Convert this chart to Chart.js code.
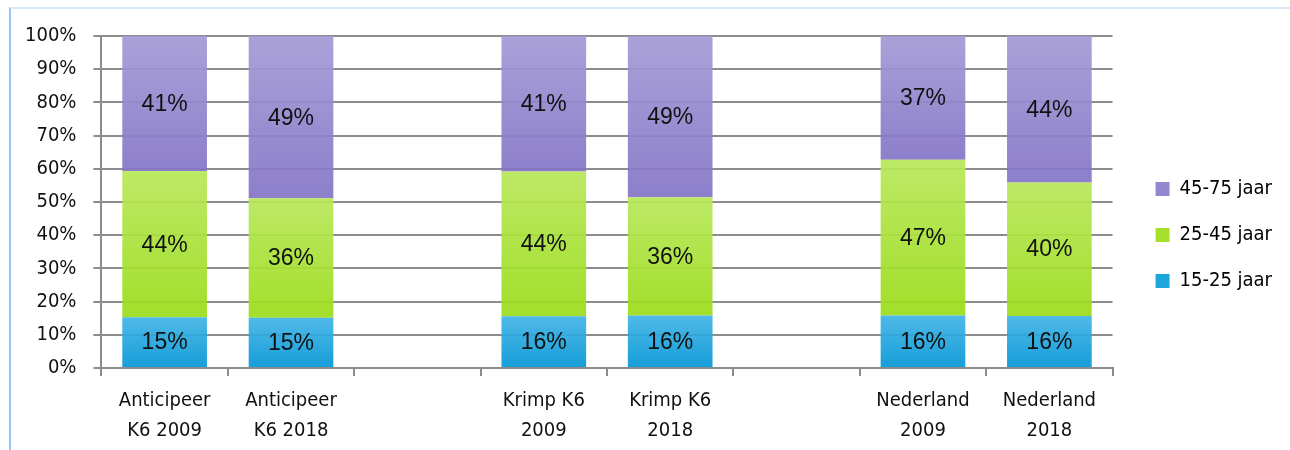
<!DOCTYPE html>
<html>
<head>
<meta charset="utf-8">
<script src="https://cdn.jsdelivr.net/npm/chart.js@4/dist/chart.umd.min.js"></script>
<style>
  html, body { margin: 0; padding: 0; background: #fff; }
  #wrap { position: relative; width: 1290px; height: 450px; }
  #frame { position: absolute; left: 9px; top: 7px; right: 0; bottom: 0; border-left: 2px solid #9cc3f5; border-top: 2px solid #d9e7fb; }
  #chart { position: absolute; left: 0; top: 0; }
</style>
</head>
<body>
<div id="wrap">
  <div id="frame"></div>
  <canvas id="chart" width="1290" height="450"></canvas>
</div>
<script>
// Categorieën (lege kolommen als scheiding tussen de groepen)
const categories = [
    ['Anticipeer', 'K6 2009'], ['Anticipeer', 'K6 2018'], '',
    ['Krimp K6', '2009'], ['Krimp K6', '2018'], '',
    ['Nederland', '2009'], ['Nederland', '2018']
];

// Aandelen per leeftijdsgroep (%)
const age15to25 = [15.3, 15.1, null, 15.6, 15.8, null, 15.8, 15.7];
const age25to45 = [44.0, 36.0, null, 43.6, 35.6, null, 46.9, 40.2];
const age45to75 = [40.7, 48.9, null, 40.8, 48.6, null, 37.3, 44.1];

const yTicks = [0, 10, 20, 30, 40, 50, 60, 70, 80, 90, 100];

const narrowFont = '"Liberation Sans Narrow", "DejaVu Sans Condensed", "Liberation Sans", sans-serif';

// Verloop per balkdeel (licht boven, donker onder), via de y-schaal
function makeGradient(light, dark) {
    return (context) => {
        const chart = context.chart;
        const y = chart.scales.y;
        if (!chart.chartArea || !y || context.dataIndex === undefined) return dark;
        const sets = chart.data.datasets;
        let start = 0;
        for (let i = 0; i < context.datasetIndex; i++) start += sets[i].data[context.dataIndex] || 0;
        const end = start + (sets[context.datasetIndex].data[context.dataIndex] || 0);
        const top = y.getPixelForValue(end);
        const bottom = y.getPixelForValue(start);
        if (!isFinite(top) || !isFinite(bottom) || bottom - top < 1) return dark;
        const g = chart.ctx.createLinearGradient(0, top, 0, bottom);
        g.addColorStop(0, light);
        g.addColorStop(1, dark);
        return g;
    };
}

// Percentages midden in de balkdelen
const valueLabels = {
    id: 'valueLabels',
    afterDatasetsDraw(chart) {
        const ctx = chart.ctx;
        ctx.save();
        ctx.font = '23px "Liberation Sans", Arial, sans-serif';
        ctx.fillStyle = '#111';
        ctx.textAlign = 'center';
        ctx.textBaseline = 'middle';
        chart.data.datasets.forEach((ds, i) => {
            chart.getDatasetMeta(i).data.forEach((bar, j) => {
                const v = ds.data[j];
                if (v === null) return;
                ctx.fillText(Math.round(v) + '%', bar.x, (bar.y + bar.base) / 2 + 1);
            });
        });
        ctx.restore();
    }
};

// Legenda iets verder van het plotvlak af en iets hoger zetten
const legendShift = {
    id: 'legendShift',
    afterLayout(chart) {
        if (chart.legend) {
            chart.legend.left += 17;
            chart.legend.right += 17;
            chart.legend.top -= 8;
            chart.legend.bottom -= 8;
        }
    }
};

const legendColors = ['#1ea5dd', '#a6e02a', '#9486cf'];

new Chart(document.getElementById('chart'), {
    type: 'bar',
    data: {
        labels: categories,
        datasets: [{
            label: '15-25 jaar',
            data: age15to25,
            backgroundColor: makeGradient('rgba(66,180,229,0.93)', 'rgba(4,150,214,0.93)')
        }, {
            label: '25-45 jaar',
            data: age25to45,
            backgroundColor: makeGradient('rgba(184,231,90,0.93)', 'rgba(155,220,26,0.93)')
        }, {
            label: '45-75 jaar',
            data: age45to75,
            backgroundColor: makeGradient('rgba(164,154,214,0.93)', 'rgba(132,117,198,0.93)')
        }]
    },
    plugins: [valueLabels, legendShift],
    options: {
        responsive: false,
        animation: false,
        devicePixelRatio: 1,
        datasets: {
            bar: {
                categoryPercentage: 1.0,
                barPercentage: 0.67,
                borderWidth: 0
            }
        },
        layout: {
            padding: { left: 8, top: 36, right: 25, bottom: 0 }
        },
        plugins: {
            legend: {
                position: 'right',
                reverse: true,
                labels: {
                    boxWidth: 14,
                    boxHeight: 14,
                    padding: 26,
                    color: '#111',
                    font: { family: narrowFont, size: 20 },
                    generateLabels(chart) {
                        return chart.data.datasets.map((ds, i) => ({
                            text: ds.label,
                            fillStyle: legendColors[i],
                            strokeStyle: legendColors[i],
                            lineWidth: 0,
                            datasetIndex: i,
                            hidden: false
                        }));
                    }
                }
            },
            tooltip: { enabled: false }
        },
        scales: {
            x: {
                stacked: true,
                afterFit(axis) {
                    axis.height = 82;
                },
                grid: {
                    offset: true,
                    drawOnChartArea: false,
                    drawTicks: true,
                    tickLength: 8,
                    color: '#8c8c8c',
                    lineWidth: 2
                },
                border: { color: '#8c8c8c', width: 2 },
                ticks: {
                    color: '#111',
                    font: { family: narrowFont, size: 20, lineHeight: 1.5 },
                    padding: 10,
                    maxRotation: 0,
                    autoSkip: false
                }
            },
            y: {
                stacked: true,
                min: 0,
                max: 100,
                afterBuildTicks(axis) {
                    axis.ticks = yTicks.map(v => ({ value: v }));
                },
                grid: {
                    color: '#8c8c8c',
                    lineWidth: 2,
                    tickLength: 8
                },
                border: { color: '#8c8c8c', width: 2 },
                ticks: {
                    color: '#111',
                    font: { family: narrowFont, size: 20 },
                    padding: 17,
                    callback: v => v + '%'
                }
            }
        }
    }
});
</script>
</body>
</html>
